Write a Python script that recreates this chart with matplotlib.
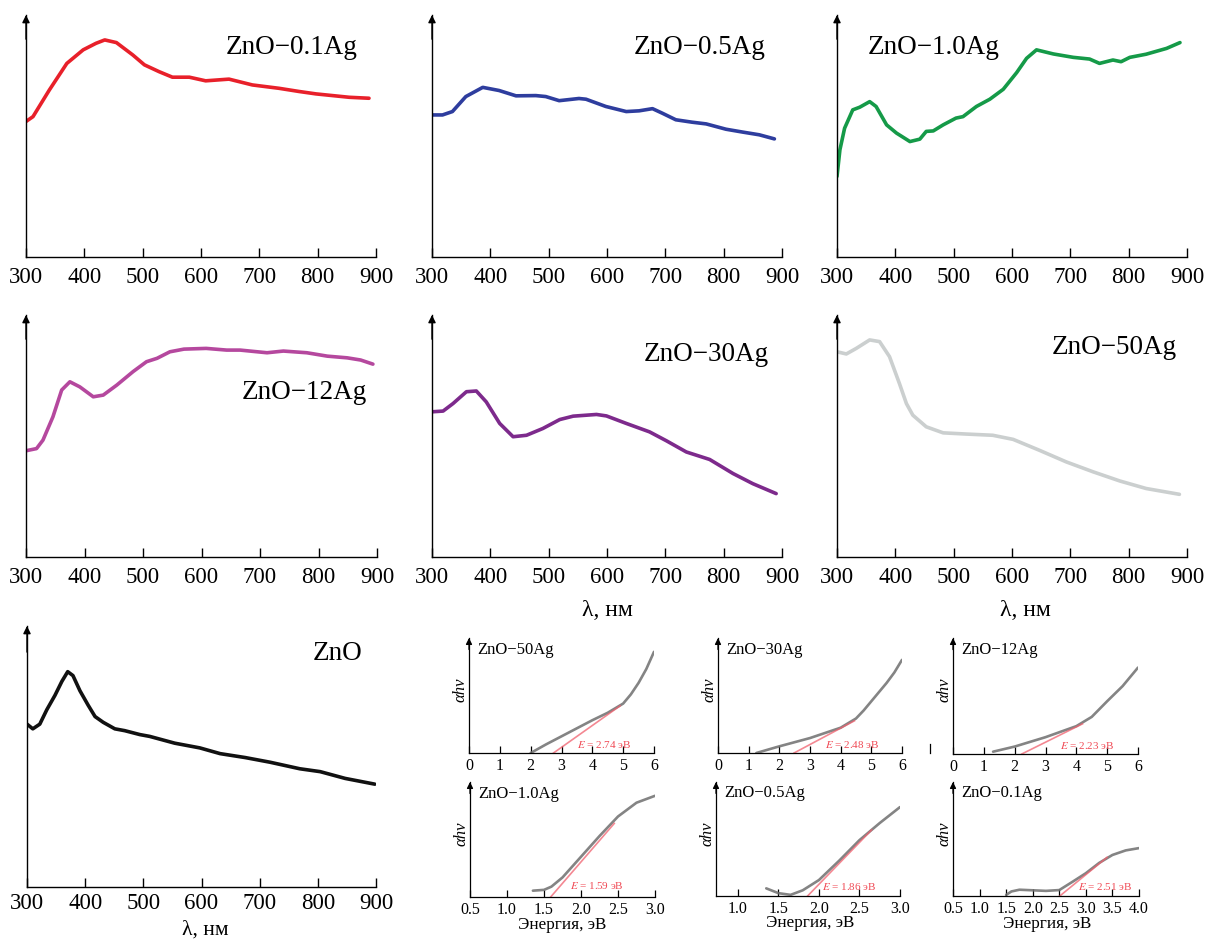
import matplotlib
matplotlib.use('Agg')
import matplotlib.pyplot as plt
from matplotlib.lines import Line2D

plt.rcParams['font.family'] = ['Liberation Serif', 'DejaVu Serif']
plt.rcParams['mathtext.fontset'] = 'stix'

# ---------------- data: absorption spectra (wavelength nm, relative absorbance) -------------
wl_01 = [300, 312, 340, 370, 398, 420, 435, 455, 483, 503, 528, 551, 580, 608, 648, 688, 734, 768, 797, 854, 888]
ab_01 = [0.56, 0.58, 0.69, 0.80, 0.856, 0.883, 0.897, 0.886, 0.835, 0.794, 0.766, 0.743, 0.743, 0.728, 0.735,
         0.711, 0.697, 0.684, 0.674, 0.660, 0.656]

wl_05 = [300, 318, 335, 358, 387, 415, 444, 478, 495, 518, 552, 564, 598, 633, 655, 678, 695, 718, 746, 770,
         804, 833, 861, 887]
ab_05 = [0.587, 0.587, 0.601, 0.663, 0.701, 0.688, 0.666, 0.667, 0.663, 0.646, 0.655, 0.652, 0.622, 0.601,
         0.604, 0.613, 0.594, 0.567, 0.557, 0.550, 0.528, 0.516, 0.505, 0.488]

wl_10 = [300, 305, 313, 327, 339, 356, 367, 385, 402, 425, 442, 453, 465, 482, 504, 516, 539, 562, 585, 608,
         625, 642, 671, 705, 733, 750, 773, 787, 802, 830, 865, 888]
ab_10 = [0.333, 0.443, 0.532, 0.608, 0.619, 0.642, 0.622, 0.546, 0.512, 0.477, 0.487, 0.519, 0.521, 0.546,
         0.574, 0.580, 0.622, 0.652, 0.693, 0.762, 0.821, 0.856, 0.839, 0.825, 0.818, 0.800, 0.814, 0.807,
         0.825, 0.838, 0.862, 0.886]

wl_12 = [300, 318, 329, 346, 361, 375, 392, 415, 432, 455, 483, 506, 524, 546, 570, 608, 643, 666, 712, 740,
         780, 815, 849, 872, 893]
ab_12 = [0.439, 0.448, 0.483, 0.579, 0.690, 0.724, 0.703, 0.662, 0.669, 0.710, 0.766, 0.807, 0.821, 0.848,
         0.859, 0.862, 0.855, 0.855, 0.844, 0.851, 0.844, 0.830, 0.823, 0.814, 0.797]

wl_30 = [300, 319, 336, 359, 376, 393, 416, 439, 462, 490, 519, 542, 582, 599, 633, 673, 702, 736, 776, 816,
         850, 890]
ab_30 = [0.600, 0.603, 0.634, 0.683, 0.686, 0.641, 0.552, 0.497, 0.503, 0.531, 0.568, 0.582, 0.589, 0.583,
         0.552, 0.517, 0.480, 0.434, 0.403, 0.345, 0.303, 0.262]

wl_50 = [300, 316, 333, 356, 373, 390, 407, 419, 430, 453, 482, 522, 567, 602, 647, 693, 739, 785, 830, 887]
ab_50 = [0.848, 0.839, 0.862, 0.897, 0.890, 0.828, 0.717, 0.634, 0.586, 0.538, 0.513, 0.508, 0.503, 0.486,
         0.441, 0.393, 0.352, 0.314, 0.283, 0.259]

wl_zno = [300, 310, 322, 334, 348, 360, 370, 379, 391, 405, 417, 431, 451, 468, 494, 511, 554, 597, 632, 675,
          718, 769, 804, 847, 898]
ab_zno = [0.624, 0.606, 0.624, 0.679, 0.734, 0.788, 0.825, 0.810, 0.752, 0.697, 0.653, 0.631, 0.606, 0.599,
          0.584, 0.577, 0.551, 0.533, 0.511, 0.496, 0.478, 0.453, 0.442, 0.416, 0.394]

# ---------------- data: Tauc plots (energy eV, alpha*h*nu relative) -------------
en_50 = [2.0, 2.5, 3.0, 3.5, 4.0, 4.5, 5.0, 5.25, 5.5, 5.75, 6.0]
ta_50 = [0.0, 0.075, 0.145, 0.215, 0.285, 0.35, 0.43, 0.51, 0.61, 0.73, 0.88]
en_30 = [1.25, 2.0, 3.0, 4.0, 4.25, 4.5, 4.75, 5.0, 5.25, 5.5, 5.75, 6.0]
ta_30 = [0.0, 0.058, 0.13, 0.22, 0.26, 0.30, 0.37, 0.45, 0.53, 0.61, 0.70, 0.81]
en_12 = [1.3, 2.0, 3.0, 4.0, 4.5, 5.0, 5.5, 6.0]
ta_12 = [0.02, 0.064, 0.145, 0.24, 0.32, 0.455, 0.585, 0.745]
en_10 = [1.35, 1.5, 1.6, 1.75, 2.0, 2.25, 2.5, 2.75, 3.0]
ta_10 = [0.055, 0.062, 0.09, 0.17, 0.35, 0.53, 0.70, 0.82, 0.88]
en_05 = [1.35, 1.5, 1.65, 1.8, 2.0, 2.25, 2.5, 2.75, 3.0]
ta_05 = [0.067, 0.025, 0.01, 0.05, 0.14, 0.31, 0.49, 0.64, 0.78]
en_01 = [1.5, 1.6, 1.75, 2.0, 2.25, 2.5, 2.75, 3.0, 3.25, 3.5, 3.75, 4.0]
ta_01 = [0.01, 0.04, 0.055, 0.05, 0.045, 0.052, 0.125, 0.20, 0.29, 0.36, 0.40, 0.42]

# band gaps and tangent end points
gap_50, tan_end_50 = 2.74, (4.9, 0.41)
gap_30, tan_end_30 = 2.48, (4.45, 0.28)
gap_12, tan_end_12 = 2.23, (4.2, 0.26)
gap_10, tan_end_10 = 1.59, (2.45, 0.64)
gap_05, tan_end_05 = 1.86, (2.65, 0.58)
gap_01, tan_end_01 = 2.51, (3.4, 0.34)

wl_ticks = [300, 400, 500, 600, 700, 800, 900]
e6_ticks = [0, 1, 2, 3, 4, 5, 6]
e3_ticks = [0.5, 1.0, 1.5, 2.0, 2.5, 3.0]
e3b_ticks = [1.0, 1.5, 2.0, 2.5, 3.0]
e4_ticks = [0.5, 1.0, 1.5, 2.0, 2.5, 3.0, 3.5, 4.0]

W, H = 1207, 941
fig = plt.figure(figsize=(W / 100, H / 100), dpi=100)


def px_axes(l, t, r, b):
    return fig.add_axes([l / W, 1 - b / H, (r - l) / W, (b - t) / H])


def style(ax, xlim, ticks, labels, tick_len, fs, lw, pad, ms):
    ax.set_xlim(*xlim)
    ax.set_ylim(0, 1)
    for s in ['top', 'right']:
        ax.spines[s].set_visible(False)
    for s in ['left', 'bottom']:
        ax.spines[s].set_linewidth(lw)
    ax.set_yticks([])
    ax.set_xticks(ticks)
    ax.set_xticklabels(labels, fontsize=fs)
    ax.tick_params(axis='x', direction='in', length=tick_len, width=lw, pad=pad)
    ax.annotate('', xy=(0, 1.0), xycoords='axes fraction', xytext=(0, 0.9), textcoords='axes fraction',
                arrowprops=dict(arrowstyle='-|>', color='k', lw=lw, mutation_scale=ms,
                                shrinkA=0, shrinkB=0))
    ax.patch.set_alpha(0)


# ---------------- big spectra panels -------------
big = [
    ((26, 15, 376, 257), wl_01, ab_01, '#e8202a', 'ZnO\u22120.1Ag', 869, 0.864, 'right', 7),
    ((432, 15, 782, 257), wl_05, ab_05, '#2e3d9e', 'ZnO\u22120.5Ag', 871, 0.864, 'right', 7),
    ((837, 15, 1187, 257), wl_10, ab_10, '#159a48', 'ZnO\u22121.0Ag', 353, 0.864, 'left', 7),
    ((26, 315, 377, 557), wl_12, ab_12, '#b5489e', 'ZnO\u221212Ag', 883, 0.678, 'right', 7),
    ((432, 315, 782, 557), wl_30, ab_30, '#7d2a8c', 'ZnO\u221230Ag', 878, 0.835, 'right', 7),
    ((837, 315, 1187, 557), wl_50, ab_50, '#cbcfcf', 'ZnO\u221250Ag', 883, 0.864, 'right', 7),
    ((27, 626, 376, 887), wl_zno, ab_zno, '#111111', 'ZnO', 876, 0.895, 'right', 4),
]
for rect, x, y, col, name, tx, ty, ha, pad in big:
    ax = px_axes(*rect)
    style(ax, (300, 900), wl_ticks, [str(t) for t in wl_ticks], 6.5, 16.5, 1.0, pad, 11)
    ax.plot(x, y, color=col, lw=2.6, solid_capstyle='round', solid_joinstyle='round')
    ax.text(tx, ty, name, transform=ax.get_xaxis_transform(), ha=ha, va='center', fontsize=19.5)

fig.text(607 / W, 1 - 610 / H, '\u03bb, \u043d\u043c', ha='center', va='center', fontsize=17)
fig.text(1025 / W, 1 - 611 / H, '\u03bb, \u043d\u043c', ha='center', va='center', fontsize=17)
fig.text(205 / W, 1 - 940 / H, '\u03bb, \u043d\u043c', ha='center', va='bottom', fontsize=15.5)

# ---------------- Tauc panels -------------
small = [
    ((469, 638, 654, 753), (0, 6), e6_ticks, [str(t) for t in e6_ticks], en_50, ta_50, gap_50, tan_end_50,
     'ZnO\u221250Ag', (3.5, 0.07)),
    ((718, 638, 902, 753), (0, 6), e6_ticks, [str(t) for t in e6_ticks], en_30, ta_30, gap_30, tan_end_30,
     'ZnO\u221230Ag', (3.5, 0.07)),
    ((953, 638, 1138, 754), (0, 6), e6_ticks, [str(t) for t in e6_ticks], en_12, ta_12, gap_12, tan_end_12,
     'ZnO\u221212Ag', (3.47, 0.07)),
    ((470, 782, 655, 897), (0.5, 3.0), e3_ticks, ['%.1f' % t for t in e3_ticks], en_10, ta_10, gap_10,
     tan_end_10, 'ZnO\u22121.0Ag', (1.85, 0.10)),
    ((716, 782, 900, 896), (0.73, 3.0), e3b_ticks, ['%.1f' % t for t in e3b_ticks], en_05, ta_05, gap_05,
     tan_end_05, 'ZnO\u22120.5Ag', (2.04, 0.08)),
    ((953, 782, 1139, 896), (0.5, 4.0), e4_ticks, ['%.1f' % t for t in e4_ticks], en_01, ta_01, gap_01,
     tan_end_01, 'ZnO\u22120.1Ag', (2.86, 0.08)),
]
for rect, xlim, ticks, labels, x, y, gap, tend, name, epos in small:
    ax = px_axes(*rect)
    style(ax, xlim, ticks, labels, 5, 11.5, 0.9, 3.5, 9)
    ax.plot(x, y, color='#6e6e6e', lw=1.9, alpha=0.85, solid_capstyle='round')
    ax.plot([gap, tend[0]], [0, tend[1]], color='#f0606e', lw=1.2, alpha=0.75)
    ax.annotate(name, xy=(0, 0.9), xycoords='axes fraction', xytext=(6, 0), textcoords='offset points',
                ha='left', va='center', fontsize=12)
    ax.text(-0.045, 0.55, '\u03b1h\u03bd', transform=ax.transAxes, rotation=90, ha='center', va='center',
            fontsize=12, style='italic')
    ax.text(epos[0], epos[1], '$E$ = %.2f \u044d\u0412' % gap, ha='left', va='center', fontsize=8,
            color='#f04a55')

fig.text(562 / W, 1 - 925 / H, '\u042d\u043d\u0435\u0440\u0433\u0438\u044f, \u044d\u0412', ha='center',
         va='center', fontsize=12.3)
fig.text(810 / W, 1 - 923 / H, '\u042d\u043d\u0435\u0440\u0433\u0438\u044f, \u044d\u0412', ha='center',
         va='center', fontsize=12.3)
fig.text(1047 / W, 1 - 924 / H, '\u042d\u043d\u0435\u0440\u0433\u0438\u044f, \u044d\u0412', ha='center',
         va='center', fontsize=12.3)

# small stray mark present in the original figure
fig.add_artist(Line2D([930 / W, 930 / W], [1 - 744 / H, 1 - 753 / H], color='k', lw=0.9))

fig.savefig('out.png', dpi=100)
